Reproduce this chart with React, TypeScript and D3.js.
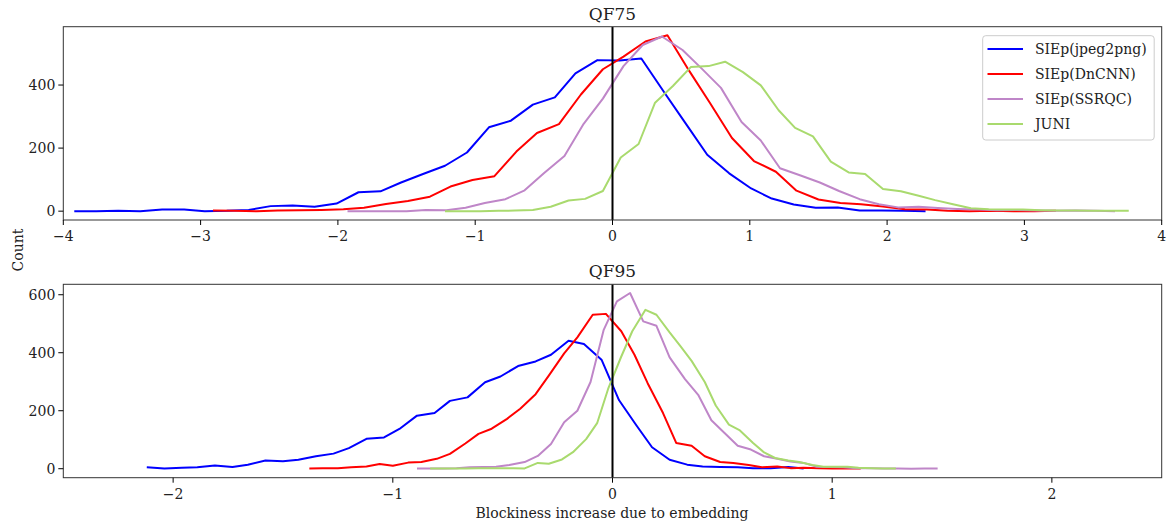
import React from "react";
import * as d3 from "d3";

// ---------- data ----------
const seriesNames = ["SIEp(jpeg2png)", "SIEp(DnCNN)", "SIEp(SSRQC)", "JUNI"];
const panelTitles = ["QF75", "QF95"];
const qf75XTicks = [-4, -3, -2, -1, 0, 1, 2, 3, 4];
const qf75YTicks = [0, 200, 400];
const qf95XTicks = [-2, -1, 0, 1, 2];
const qf95YTicks = [0, 200, 400, 600];

// QF75
const qf75JpegX = [-3.92,-3.76,-3.60,-3.44,-3.28,-3.12,-2.97,-2.81,-2.65,-2.49,-2.33,-2.17,-2.01,-1.85,-1.69,-1.54,-1.38,-1.22,-1.06,-0.90,-0.74,-0.58,-0.42,-0.27,-0.11,0.05,0.21,0.37,0.53,0.69,0.85,1.01,1.16,1.32,1.48,1.64,1.80,1.96,2.12,2.28];
const qf75JpegY = [0,0,1,0,5,5,0,1,4,16,18,14,24,60,63,91,118,144,186,266,287,338,361,437,479,478,484,381,280,179,120,72,40,21,11,12,2,2,1,0];
const qf75DncnnX = [-2.91,-2.75,-2.59,-2.44,-2.28,-2.12,-1.96,-1.81,-1.65,-1.49,-1.33,-1.18,-1.02,-0.86,-0.70,-0.55,-0.39,-0.23,-0.07,0.08,0.24,0.40,0.56,0.71,0.87,1.03,1.19,1.34,1.50,1.66,1.81,1.97,2.13,2.29,2.44,2.60,2.76,2.92,3.07,3.23];
const qf75DncnnY = [2,1,0,2,3,4,6,11,23,32,46,78,99,111,189,248,276,370,450,490,538,558,444,343,232,159,125,65,37,26,22,15,6,5,1,0,1,0,0,1];
const qf75SsrqcX = [-1.93,-1.79,-1.64,-1.50,-1.36,-1.21,-1.07,-0.93,-0.78,-0.64,-0.50,-0.35,-0.21,-0.07,0.08,0.22,0.36,0.51,0.65,0.79,0.94,1.08,1.22,1.37,1.51,1.65,1.80,1.94,2.08,2.23,2.37,2.51,2.66,2.80,2.94,3.09,3.23,3.37,3.52,3.66];
const qf75SsrqcY = [0,0,0,0,4,3,11,26,38,66,120,175,277,357,460,527,554,511,452,391,283,224,136,113,91,64,38,22,12,14,10,7,5,3,4,2,1,2,1,0];
const qf75JuniX = [-1.22,-1.09,-0.96,-0.83,-0.71,-0.58,-0.45,-0.32,-0.20,-0.07,0.06,0.19,0.31,0.44,0.57,0.70,0.82,0.95,1.08,1.21,1.33,1.46,1.59,1.72,1.84,1.97,2.10,2.23,2.35,2.48,2.61,2.74,2.86,2.99,3.12,3.25,3.37,3.50,3.63,3.76];
const qf75JuniY = [0,0,0,1,2,4,14,34,39,64,170,213,344,397,457,460,474,441,399,320,264,237,157,123,118,70,63,49,35,22,9,6,5,5,3,2,2,1,1,1];

// QF95
const qf95JpegX = [-2.12,-2.04,-1.96,-1.89,-1.81,-1.73,-1.66,-1.58,-1.50,-1.43,-1.35,-1.27,-1.20,-1.12,-1.04,-0.97,-0.89,-0.81,-0.74,-0.66,-0.58,-0.51,-0.43,-0.35,-0.28,-0.20,-0.13,-0.05,0.03,0.11,0.18,0.26,0.34,0.41,0.49,0.57,0.64,0.72,0.80,0.87];
const qf95JpegY = [5,1,3,5,11,6,14,28,26,31,43,52,71,103,108,137,183,192,234,246,298,318,354,370,393,441,430,376,236,148,74,31,14,8,6,5,2,2,6,1];
const qf95DncnnX = [-1.38,-1.32,-1.25,-1.19,-1.12,-1.06,-1.00,-0.93,-0.87,-0.80,-0.74,-0.67,-0.61,-0.55,-0.48,-0.42,-0.35,-0.29,-0.22,-0.16,-0.09,-0.03,0.04,0.10,0.16,0.23,0.29,0.36,0.42,0.49,0.55,0.62,0.68,0.75,0.81,0.87,0.94,1.00,1.07,1.13];
const qf95DncnnY = [1,2,2,5,8,16,10,21,23,34,51,87,120,138,172,207,257,321,398,453,531,534,474,393,295,192,89,79,43,23,20,13,5,8,2,3,2,1,1,1];
const qf95SsrqcX = [-0.89,-0.83,-0.77,-0.71,-0.65,-0.59,-0.53,-0.47,-0.40,-0.34,-0.28,-0.22,-0.16,-0.10,-0.04,0.02,0.08,0.14,0.20,0.26,0.33,0.39,0.45,0.51,0.57,0.63,0.69,0.75,0.81,0.87,0.93,0.99,1.05,1.11,1.18,1.24,1.30,1.36,1.42,1.48];
const qf95SsrqcY = [1,1,1,2,5,6,7,13,23,44,85,160,200,299,479,577,606,508,493,384,309,255,167,123,79,66,43,34,25,20,7,6,5,2,2,1,1,0,1,1];
const qf95JuniX = [-0.83,-0.78,-0.72,-0.67,-0.61,-0.56,-0.50,-0.45,-0.40,-0.34,-0.29,-0.23,-0.18,-0.12,-0.07,-0.02,0.04,0.09,0.15,0.20,0.26,0.31,0.36,0.42,0.47,0.53,0.58,0.64,0.69,0.74,0.80,0.85,0.91,0.96,1.01,1.07,1.12,1.18,1.23,1.29];
const qf95JuniY = [1,1,1,1,2,2,2,2,1,20,17,32,57,102,157,275,387,474,548,531,470,422,372,299,218,152,132,89,56,37,28,23,13,7,7,7,3,2,1,1];

// ---------- styles ----------
const COLORS = ["#0000ff", "#ff0000", "#bf86c8", "#a9da6e"];
const FONT = "'DejaVu Serif', 'Liberation Serif', serif";
const W = 1168;
const H = 529;

type Series = { x: number[]; y: number[] };

const panels = [
  {
    title: panelTitles[0],
    xDomain: [-4, 4] as [number, number],
    yDomain: [-28, 585] as [number, number],
    xTicks: qf75XTicks,
    yTicks: qf75YTicks,
    box: { left: 63.3, right: 1161.7, top: 26.7, bottom: 220 },
    series: [
      { x: qf75JpegX, y: qf75JpegY },
      { x: qf75DncnnX, y: qf75DncnnY },
      { x: qf75SsrqcX, y: qf75SsrqcY },
      { x: qf75JuniX, y: qf75JuniY },
    ] as Series[],
    legend: true,
  },
  {
    title: panelTitles[1],
    xDomain: [-2.5, 2.5] as [number, number],
    yDomain: [-31, 636] as [number, number],
    xTicks: qf95XTicks,
    yTicks: qf95YTicks,
    box: { left: 63.3, right: 1161.7, top: 284.3, bottom: 477.7 },
    series: [
      { x: qf95JpegX, y: qf95JpegY },
      { x: qf95DncnnX, y: qf95DncnnY },
      { x: qf95SsrqcX, y: qf95SsrqcY },
      { x: qf95JuniX, y: qf95JuniY },
    ] as Series[],
    legend: false,
  },
];

const fmt = (v: number) => (v < 0 ? "\u2212" + Math.abs(v) : String(v));

function Panel({ p, idx }: { p: (typeof panels)[number]; idx: number }) {
  const { box } = p;
  const x = d3.scaleLinear().domain(p.xDomain).range([box.left, box.right]);
  const y = d3.scaleLinear().domain(p.yDomain).range([box.bottom, box.top]);
  const clipId = `clip-${idx}`;
  return (
    <g>
      <defs>
        <clipPath id={clipId}>
          <rect x={box.left} y={box.top} width={box.right - box.left} height={box.bottom - box.top} />
        </clipPath>
      </defs>
      <rect x={box.left} y={box.top} width={box.right - box.left} height={box.bottom - box.top} fill="#fff" />
      <g clipPath={`url(#${clipId})`}>
        {p.series.map((s, i) => {
          const pts: [number, number][] = s.x.map((xv, k) => [xv, s.y[k]]);
          const line = d3
            .line<[number, number]>()
            .x((d) => x(d[0]))
            .y((d) => y(d[1]));
          return (
            <path
              key={i}
              d={line(pts) || ""}
              fill="none"
              stroke={COLORS[i]}
              strokeWidth={2}
              strokeLinejoin="round"
            />
          );
        })}
        <line x1={x(0)} x2={x(0)} y1={box.top} y2={box.bottom} stroke="#000" strokeWidth={2} />
      </g>
      <rect
        x={box.left}
        y={box.top}
        width={box.right - box.left}
        height={box.bottom - box.top}
        fill="none"
        stroke="#333"
        strokeWidth={1}
      />
      {p.xTicks.map((t) => (
        <g key={"x" + t}>
          <line x1={x(t)} x2={x(t)} y1={box.bottom} y2={box.bottom + 5} stroke="#000" strokeWidth={1} />
          <text
            x={x(t)}
            y={box.bottom + 21}
            textAnchor="middle"
            fontFamily={FONT}
            fontSize={14}
            fill="#222"
          >
            {fmt(t)}
          </text>
        </g>
      ))}
      {p.yTicks.map((t) => (
        <g key={"y" + t}>
          <line x1={box.left - 5} x2={box.left} y1={y(t)} y2={y(t)} stroke="#000" strokeWidth={1} />
          <text
            x={box.left - 8}
            y={y(t)}
            dy="0.35em"
            textAnchor="end"
            fontFamily={FONT}
            fontSize={14}
            fill="#222"
          >
            {fmt(t)}
          </text>
        </g>
      ))}
      <text
        x={(box.left + box.right) / 2}
        y={box.top - 7}
        textAnchor="middle"
        fontFamily={FONT}
        fontSize={17}
        fill="#222"
      >
        {p.title}
      </text>
      {p.legend && (
        <g>
          <rect x={982.7} y={35.7} width={171.5} height={104.3} rx={3} fill="#fff" fillOpacity={0.8} stroke="#cccccc" strokeWidth={1} />
          {seriesNames.map((n, i) => {
            const ly = 49 + i * 25;
            return (
              <g key={n}>
                <line x1={987.5} x2={1023} y1={ly} y2={ly} stroke={COLORS[i]} strokeWidth={2} />
                <text x={1035} y={ly} dy="0.35em" fontFamily={FONT} fontSize={14} fill="#222">
                  {n}
                </text>
              </g>
            );
          })}
        </g>
      )}
    </g>
  );
}

export default function App() {
  return (
    <svg
      width={W}
      height={H}
      viewBox={`0 0 ${W} ${H}`}
      style={{ position: "absolute", left: 0, top: 0, background: "#fff" }}
    >
      <rect x={0} y={0} width={W} height={H} fill="#fff" />
      {panels.map((p, i) => (
        <Panel key={i} p={p} idx={i} />
      ))}
      <text
        x={18}
        y={250}
        transform="rotate(-90 18 250)"
        textAnchor="middle"
        dy="0.35em"
        fontFamily={FONT}
        fontSize={14}
        fill="#222"
      >
        Count
      </text>
      <text x={612} y={518} textAnchor="middle" fontFamily={FONT} fontSize={14} fill="#222">
        Blockiness increase due to embedding
      </text>
    </svg>
  );
}
